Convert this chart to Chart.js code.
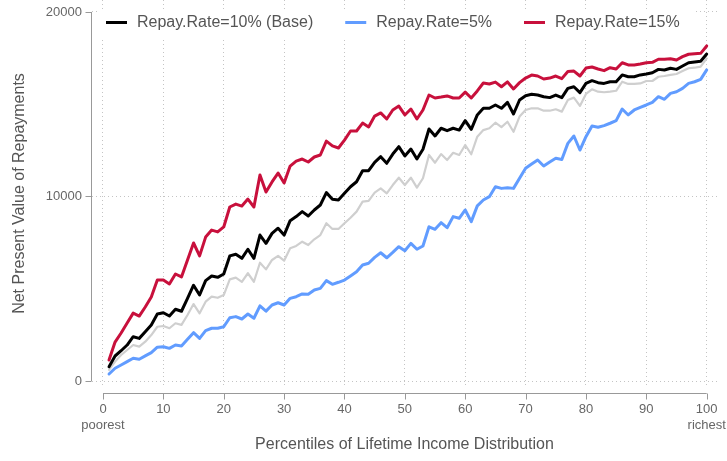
<!DOCTYPE html>
<html><head><meta charset="utf-8">
<script src="https://cdn.jsdelivr.net/npm/chart.js@4/dist/chart.umd.min.js"></script>
<style>html,body{margin:0;padding:0;background:#fff}#wrap{width:727px;height:461px;position:relative}canvas{display:block}</style>
</head><body><div id="wrap"><canvas id="c" width="727" height="461"></canvas></div>
<script>
const percentiles = [1,2,3,4,5,6,7,8,9,10,11,12,13,14,15,16,17,18,19,20,21,22,23,24,25,26,27,28,29,30,31,32,33,34,35,36,37,38,39,40,41,42,43,44,45,46,47,48,49,50,51,52,53,54,55,56,57,58,59,60,61,62,63,64,65,66,67,68,69,70,71,72,73,74,75,76,77,78,79,80,81,82,83,84,85,86,87,88,89,90,91,92,93,94,95,96,97,98,99,100];

const rate10Base = [775,1355,1640,1950,2400,2310,2670,3040,3630,3700,3520,3890,3780,4480,5190,4660,5440,5690,5620,5800,6780,6870,6650,7140,6650,7910,7460,8000,8280,7910,8690,8910,9180,8940,9270,9540,10210,9850,9810,10170,10530,10800,11400,11400,11850,12160,11800,12300,12700,12200,12570,12030,12560,13660,13280,13700,13570,13700,13600,14110,13640,14420,14780,14780,14960,14780,15100,14470,15230,15460,15540,15500,15410,15360,15500,15360,15860,15950,15630,16130,16280,16170,16130,16220,16220,16590,16490,16490,16590,16640,16710,16890,16860,16950,16890,17070,17250,17290,17330,17720];

const rate5 = [380,690,870,1050,1230,1180,1360,1540,1830,1860,1770,1950,1900,2260,2620,2310,2730,2860,2860,2940,3430,3490,3360,3630,3400,4070,3790,4120,4240,4120,4480,4570,4720,4700,4930,5020,5440,5240,5350,5470,5690,5920,6290,6380,6700,6950,6680,6970,7280,7060,7460,7140,7320,8360,8220,8580,8310,8910,8820,9270,8640,9490,9810,9990,10530,10440,10480,10440,10990,11530,11760,11980,11650,11870,12070,12010,12880,13280,12520,13240,13820,13750,13840,13970,14110,14740,14420,14690,14830,14960,15100,15410,15270,15590,15680,15860,16130,16220,16350,16860];

const rate15 = [1140,2110,2600,3140,3680,3520,4010,4550,5470,5470,5260,5800,5640,6560,7480,6780,7800,8180,8080,8350,9430,9590,9480,9860,9430,11170,10240,10790,11270,10730,11650,11920,12030,11870,12140,12250,13000,12740,12630,13060,13550,13550,13980,13770,14360,14530,14200,14690,14900,14420,14740,14200,14690,15500,15340,15390,15450,15340,15340,15660,15340,15720,16150,16100,16200,15950,16210,15830,16170,16420,16580,16530,16370,16420,16530,16390,16770,16800,16530,16960,17020,16910,16820,16980,16910,17250,17130,17130,17180,17250,17270,17440,17440,17470,17400,17580,17710,17740,17760,18160];

const unlabeledGray = [600,1050,1410,1680,1950,1860,2130,2490,2940,2980,2860,3130,3040,3580,4170,3670,4300,4570,4510,4660,5510,5600,5370,5840,5380,6410,6050,6560,6780,6520,7190,7320,7550,7370,7680,7910,8550,8240,8240,8550,8850,9180,9720,9760,10210,10440,10170,10620,11020,10620,11020,10480,10990,12250,11830,12300,11980,12370,12250,12790,12290,13240,13600,13700,14000,13760,14050,13510,14330,14690,14780,14780,14650,14650,14730,14600,15230,15360,14910,15560,15810,15680,15650,15680,15730,16220,16100,16100,16130,16260,16260,16490,16530,16590,16640,16800,16950,16980,17040,17490];

const seriesLabels = ['Repay.Rate=10% (Base)', 'Repay.Rate=5%', 'Repay.Rate=15%', ''];
const xTickValues = [0,10,20,30,40,50,60,70,80,90,100];
const yTickValues = [0,10000,20000];
const xExtraLabels = {0: 'poorest', 100: 'richest'};

const FONT = "'Liberation Sans', Arial, Helvetica, sans-serif";
Chart.defaults.font.family = FONT;
Chart.defaults.color = '#666';

const toPoints = arr => arr.map((v, i) => ({x: percentiles[i], y: v}));

const offsetAxes = {
  id: 'offsetAxes',
  afterDraw(chart) {
    const {ctx, chartArea, scales: {x, y}} = chart;
    ctx.save();
    ctx.strokeStyle = '#999';
    ctx.lineWidth = 1;
    const ay = chartArea.bottom + 6.5;
    const ax = chartArea.left - 0.5;
    ctx.beginPath();
    ctx.moveTo(x.getPixelForValue(xTickValues[0]), ay);
    ctx.lineTo(x.getPixelForValue(xTickValues[xTickValues.length - 1]), ay);
    xTickValues.forEach(v => {
      const px = Math.round(x.getPixelForValue(v)) + 0.5;
      ctx.moveTo(px, ay); ctx.lineTo(px, ay + 6);
    });
    ctx.moveTo(ax, y.getPixelForValue(yTickValues[0]));
    ctx.lineTo(ax, y.getPixelForValue(yTickValues[yTickValues.length - 1]));
    yTickValues.forEach(v => {
      const py = Math.round(y.getPixelForValue(v)) + 0.5;
      ctx.moveTo(ax, py); ctx.lineTo(ax - 6, py);
    });
    ctx.stroke();
    ctx.restore();
  }
};

const topLegend = {
  id: 'topLegend',
  afterDraw(chart) {
    const ctx = chart.ctx;
    ctx.save();
    ctx.fillStyle = '#fff';
    ctx.fillRect(97, 10, 598, 30);
    ctx.font = '16px ' + FONT;
    ctx.textBaseline = 'middle';
    ctx.textAlign = 'left';
    let lx = 106;
    const ly = 22.5;
    chart.data.datasets.forEach(ds => {
      if (!ds.label) return;
      ctx.strokeStyle = ds.borderColor;
      ctx.lineWidth = 3;
      ctx.beginPath();
      ctx.moveTo(lx, ly); ctx.lineTo(lx + 21, ly);
      ctx.stroke();
      ctx.fillStyle = '#555';
      ctx.fillText(ds.label, lx + 31, ly + 0.5);
      lx += 31 + ctx.measureText(ds.label).width + 32;
    });
    ctx.restore();
  }
};

new Chart(document.getElementById('c'), {
  type: 'line',
  data: {
    datasets: [
      {label: seriesLabels[0], data: toPoints(rate10Base), borderColor: '#000000', backgroundColor: '#000000', borderWidth: 3},
      {label: seriesLabels[1], data: toPoints(rate5), borderColor: '#619CFF', backgroundColor: '#619CFF', borderWidth: 3},
      {label: seriesLabels[2], data: toPoints(rate15), borderColor: '#C8103C', backgroundColor: '#C8103C', borderWidth: 3},
      {label: seriesLabels[3], data: toPoints(unlabeledGray), borderColor: '#CFCFCF', backgroundColor: '#CFCFCF', borderWidth: 2.2}
    ]
  },
  options: {
    responsive: false,
    animation: false,
    devicePixelRatio: 1,
    layout: {padding: {left: 0, right: 10, top: 0, bottom: 0}},
    elements: {point: {radius: 0}, line: {tension: 0, borderJoinStyle: 'round', borderCapStyle: 'round', fill: false}},
    plugins: {legend: {display: false}, tooltip: {enabled: false}},
    scales: {
      x: {
        type: 'linear', min: -1.822, max: 101.706,
        afterBuildTicks: s => { s.ticks = xTickValues.map(v => ({value: v})); },
        afterFit: s => { s.height = 74; s.paddingLeft = 0; s.paddingRight = 0; },
        ticks: {padding: 15, font: {size: 13}, color: '#666', maxRotation: 0, autoSkip: false,
          callback: v => xExtraLabels[v] ? [String(v), xExtraLabels[v]] : String(v)},
        grid: {color: '#c4c4c4', lineWidth: 1, drawTicks: false, tickLength: 0},
        border: {display: false, dash: [1, 3]},
        title: {display: true, text: 'Percentiles of Lifetime Income Distribution', font: {size: 16}, color: '#555', padding: {top: 4, bottom: 7}}
      },
      y: {
        type: 'linear', min: -325.2, max: 20650.4,
        afterBuildTicks: s => { s.ticks = yTickValues.map(v => ({value: v})); },
        afterFit: s => { s.width = 92; s.paddingTop = 0; s.paddingBottom = 0; },
        ticks: {padding: 10, font: {size: 13}, color: '#666', callback: v => String(v)},
        grid: {color: '#c4c4c4', lineWidth: 1, drawTicks: false, tickLength: 0},
        border: {display: false, dash: [1, 3]},
        title: {display: true, text: 'Net Present Value of Repayments', font: {size: 16}, color: '#555', padding: {top: 10, bottom: 4}}
      }
    }
  },
  plugins: [offsetAxes, topLegend]
});
</script></body></html>
